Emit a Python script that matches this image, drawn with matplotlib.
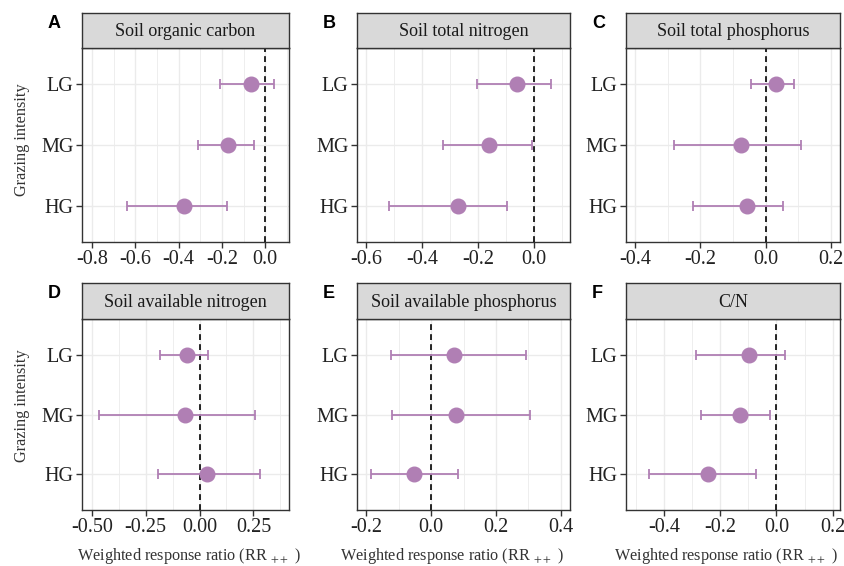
import numpy as np
import matplotlib
matplotlib.use("Agg")
import matplotlib.pyplot as plt
from matplotlib.ticker import MultipleLocator, FormatStrFormatter

plt.rcParams["font.family"] = ["Liberation Serif", "DejaVu Serif"]
plt.rcParams["mathtext.fontset"] = "stix"
plt.rcParams["axes.unicode_minus"] = False

# grazing levels, bottom to top on the y axis
LEVELS = ["HG", "MG", "LG"]

TITLES = ["Soil organic carbon", "Soil total nitrogen", "Soil total phosphorus",
          "Soil available nitrogen", "Soil available phosphorus", "C/N"]
LETTERS = ["A", "B", "C", "D", "E", "F"]

# weighted response ratio, order HG, MG, LG
MEAN = [
    [-0.376, -0.173, -0.066],
    [-0.270, -0.160, -0.060],
    [-0.057, -0.074, 0.031],
    [0.037, -0.066, -0.058],
    [-0.052, 0.077, 0.071],
    [-0.242, -0.130, -0.098],
]
LOWER = [
    [-0.639, -0.308, -0.210],
    [-0.517, -0.324, -0.205],
    [-0.222, -0.282, -0.045],
    [-0.194, -0.467, -0.181],
    [-0.184, -0.120, -0.125],
    [-0.454, -0.270, -0.285],
]
UPPER = [
    [-0.176, -0.052, 0.043],
    [-0.096, -0.008, 0.061],
    [0.054, 0.109, 0.088],
    [0.279, 0.256, 0.040],
    [0.082, 0.305, 0.292],
    [-0.071, -0.023, 0.032],
]

# axis settings per panel: xlim, major step, label format
XLIMS = [(-0.846, 0.11), (-0.633, 0.129), (-0.4285, 0.2285),
         (-0.545, 0.415), (-0.2285, 0.428), (-0.535, 0.226)]
STEPS = [0.2, 0.2, 0.2, 0.25, 0.2, 0.2]
FMTS = ["%.1f", "%.1f", "%.1f", "%.2f", "%.1f", "%.1f"]

W, H = 845, 566
COLS = [(82, 289), (357, 570), (626, 840)]
ROWS = [(48, 242, 13), (319, 510, 283)]   # panel top, panel bottom, strip top
XLAB_X = [0.514, 0.447, 0.465]            # x-label centre per bottom panel (axes frac)
YLAB_Y = [0.528, 0.547]                   # y-label centre per row (axes frac)

PURPLE = "#B07FB4"
GRID = "#EBEBEB"
EDGE = "#333333"

fig = plt.figure(figsize=(W / 100, H / 100), dpi=100)


def frac(x0, y0, x1, y1):
    return [x0 / W, 1 - y1 / H, (x1 - x0) / W, (y1 - y0) / H]


for i in range(6):
    r, c = divmod(i, 3)
    x0, x1 = COLS[c]
    top, bot, stop = ROWS[r]

    ax = fig.add_axes(frac(x0, top, x1, bot))
    y = np.arange(len(LEVELS))
    m = np.array(MEAN[i]); lo = np.array(LOWER[i]); hi = np.array(UPPER[i])

    ax.axvline(0, color="black", ls=(0, (3.5, 2.5)), lw=1.2, zorder=3)
    ax.errorbar(m, y, xerr=[m - lo, hi - m], fmt="none", ecolor=PURPLE,
                elinewidth=1.3, capsize=3.5, capthick=1.3, zorder=4)
    ax.plot(m, y, "o", color=PURPLE, ms=10.5, mec=PURPLE, zorder=5)

    ax.set_xlim(*XLIMS[i])
    ax.set_ylim(-0.6, 2.6)
    ax.xaxis.set_major_locator(MultipleLocator(STEPS[i]))
    ax.xaxis.set_minor_locator(MultipleLocator(STEPS[i] / 2))
    ax.xaxis.set_major_formatter(FormatStrFormatter(FMTS[i]))
    ax.set_yticks(y)
    ax.set_yticklabels(LEVELS)

    ax.grid(True, which="major", color=GRID, lw=1.0, zorder=0)
    ax.grid(True, which="minor", axis="x", color=GRID, lw=0.6, zorder=0)
    ax.set_axisbelow(True)
    ax.tick_params(which="major", length=4, width=1, color=EDGE,
                   labelsize=14.5, labelcolor="#222222", pad=2)
    ax.tick_params(which="minor", length=0)
    for s in ax.spines.values():
        s.set_color(EDGE)
        s.set_linewidth(1.0)

    if c == 0:
        ax.set_ylabel("Grazing intensity", fontsize=11.7, color="#333333")
        ax.yaxis.set_label_coords(-0.25, YLAB_Y[r])
    if r == 1:
        ax.set_xlabel(r"Weighted response ratio (RR $_{++}$ )", fontsize=11.7,
                      color="#333333", labelpad=4)
        ax.xaxis.set_label_coords(XLAB_X[c], -0.19)

    # strip header
    sax = fig.add_axes(frac(x0, stop, x1, top))
    sax.set_facecolor("#D9D9D9")
    sax.set_xticks([]); sax.set_yticks([])
    for s in sax.spines.values():
        s.set_color(EDGE)
        s.set_linewidth(1.0)
    sax.text(0.5, 0.47, TITLES[i], ha="center", va="center", fontsize=13,
             color="#1a1a1a", transform=sax.transAxes)

    # panel letter
    fig.text((x0 - 34) / W, 1 - (stop + 10) / H, LETTERS[i],
             ha="left", va="center", fontsize=13, fontweight="bold",
             family=["Liberation Sans", "DejaVu Sans"])

fig.savefig("out.png", dpi=100, facecolor="white")
